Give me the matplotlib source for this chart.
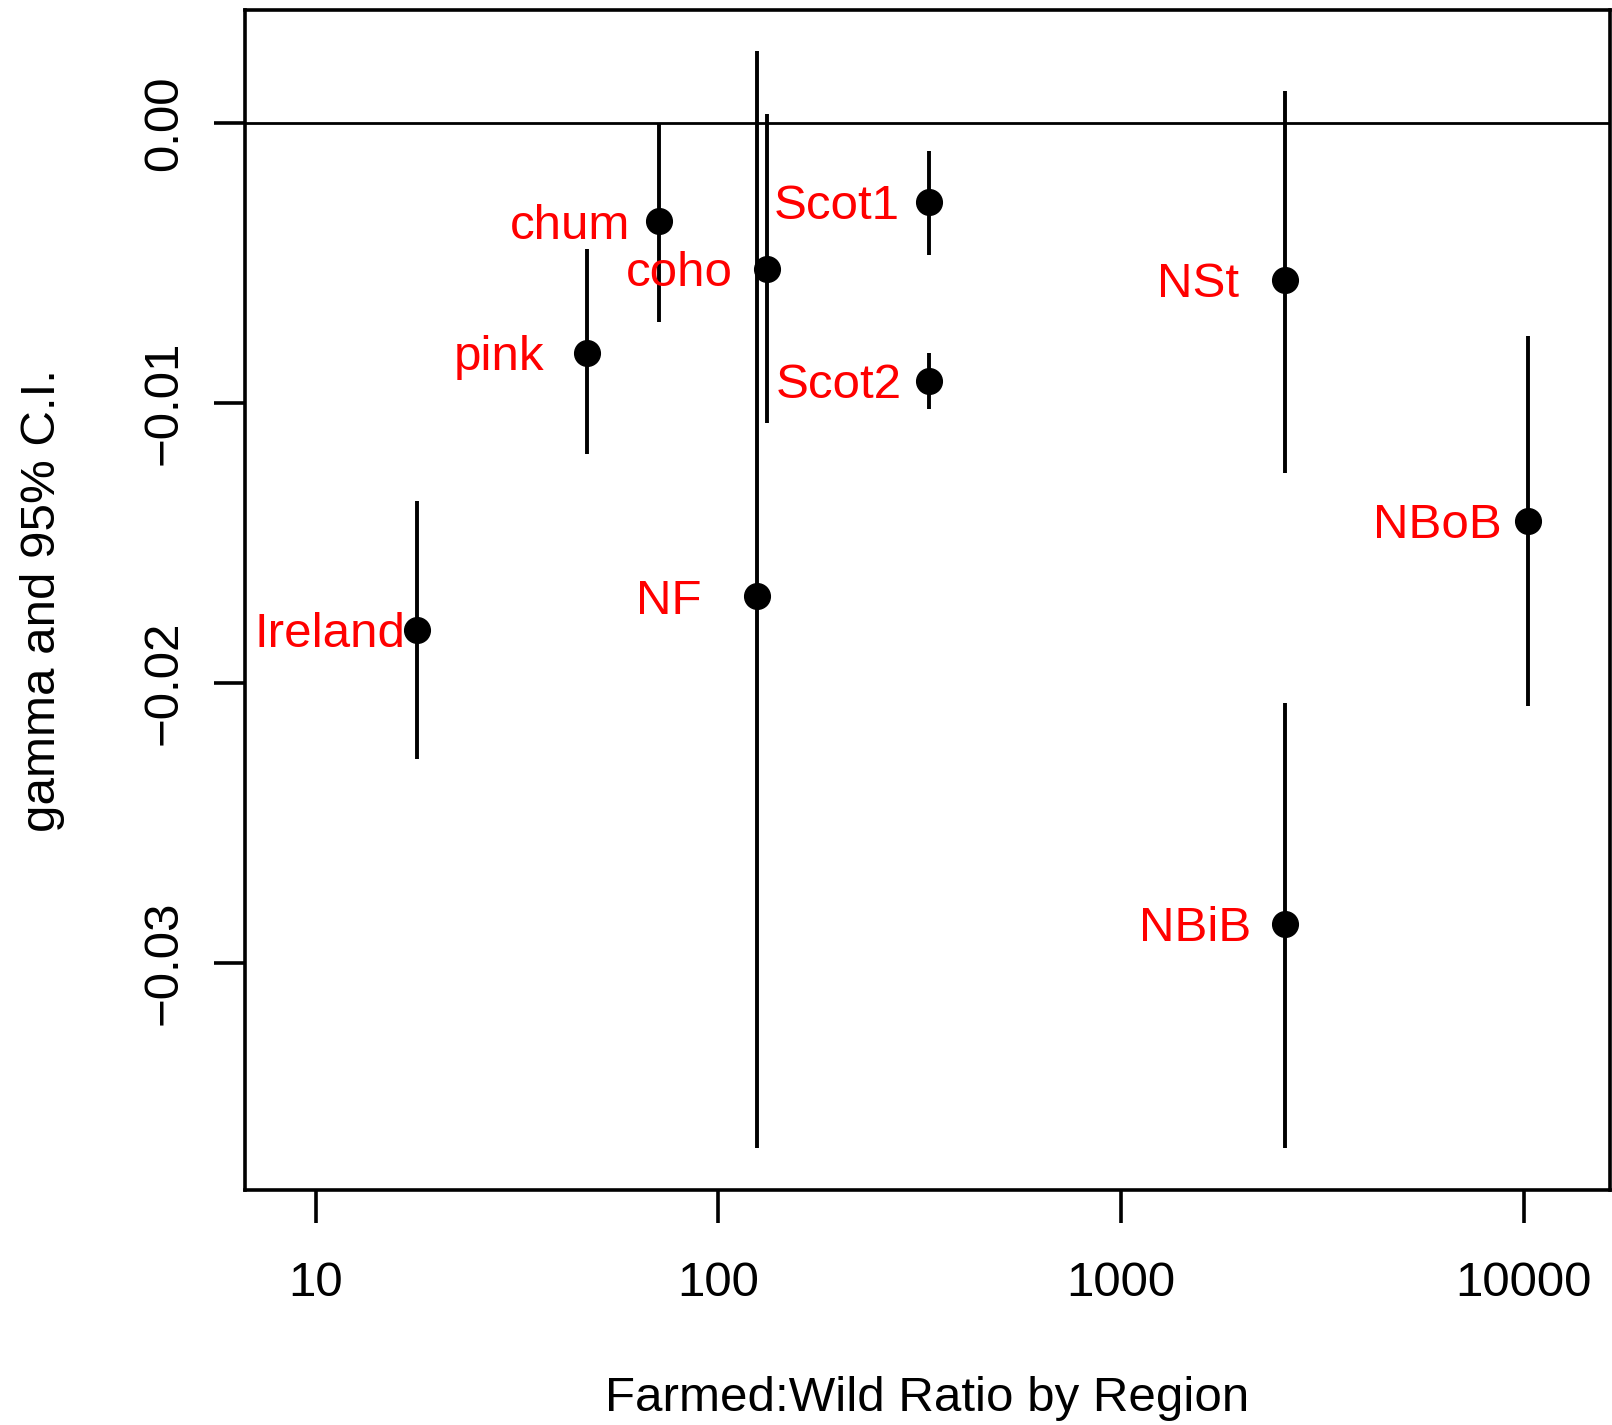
import numpy as np
import matplotlib
matplotlib.use('Agg')
import matplotlib.pyplot as plt
from matplotlib.ticker import FixedLocator, FixedFormatter, NullLocator

# datos
regions = ['Ireland', 'pink', 'chum', 'coho', 'NF', 'Scot1', 'Scot2', 'NSt', 'NBiB', 'NBoB']
ratio   = [17.9, 47.2, 71.3, 132.0, 124.5, 334.0, 334.0, 2550.0, 2550.0, 10250.0]
gamma   = [-0.0181, -0.0082, -0.0035, -0.0052, -0.0169, -0.0028, -0.0092, -0.0056, -0.0286, -0.0142]
ci_hi   = [-0.0135, -0.0045, 0.0000, 0.00033, 0.00256, -0.0010, -0.0082, 0.00113, -0.0207, -0.0076]
ci_lo   = [-0.0227, -0.0118, -0.0071, -0.0107, -0.0366, -0.0047, -0.0102, -0.0125, -0.0366, -0.0208]

xticks  = [10, 100, 1000, 10000]
xtlabs  = ['10', '100', '1000', '10000']
yticks  = [0.00, -0.01, -0.02, -0.03]
ytlabs  = ['0.00', '\u22120.01', '\u22120.02', '\u22120.03']

# separacion de las etiquetas (puntos, hacia la izquierda)
lab_dx  = [8.6, 31, 21, 24.5, 40, 21, 19.5, 33, 24, 19]

plt.rcParams['font.family'] = ['Liberation Sans', 'DejaVu Sans']
fs = 35.5

fig = plt.figure(figsize=[16.12, 14.25], dpi=100)
ax = fig.add_axes([245/1612., 1 - 1190/1425., 1365/1612., 1180/1425.])

ax.axhline(0.0, color='k', linewidth=2.0, zorder=1)
ax.vlines(ratio, ci_lo, ci_hi, color='k', linewidth=2.8, zorder=2)
ax.plot(ratio, gamma, 'o', color='k', markersize=18.5, zorder=3)

for i in range(len(regions)):
    ax.annotate(regions[i], (ratio[i], gamma[i]), xytext=(-lab_dx[i], 0),
                textcoords='offset points', ha='right', va='center_baseline',
                color='red', fontsize=fs, zorder=4)

ax.set_xscale('log')
ax.set_xlim(6.675, 16400)
ax.set_ylim(-0.0381, 0.00404)
ax.xaxis.set_major_locator(FixedLocator(xticks))
ax.xaxis.set_major_formatter(FixedFormatter(xtlabs))
ax.xaxis.set_minor_locator(NullLocator())
ax.yaxis.set_major_locator(FixedLocator(yticks))
ax.yaxis.set_major_formatter(FixedFormatter(ytlabs))

for s in ax.spines.values():
    s.set_linewidth(2.6)

ax.tick_params(axis='x', direction='out', length=24, width=2.6, pad=27, labelsize=fs)
ax.tick_params(axis='y', direction='out', length=22, width=2.6, pad=20, labelsize=fs,
               labelrotation=90)
for t in ax.get_yticklabels():
    t.set_va('center')

ax.set_xlabel('Farmed:Wild Ratio by Region', fontsize=fs)
ax.set_ylabel('gamma and 95% C.I.', fontsize=fs)
ax.xaxis.set_label_coords(0.5, -0.158)
ax.yaxis.set_label_coords(-0.132, 0.5)

fig.savefig('out.png', dpi=100)
